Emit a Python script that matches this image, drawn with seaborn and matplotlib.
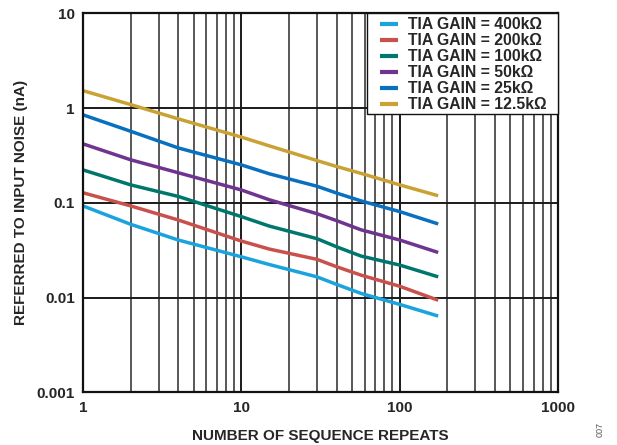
import matplotlib
matplotlib.use("Agg")
import matplotlib.pyplot as plt
import seaborn as sns
import pandas as pd
from matplotlib.patches import Rectangle
from matplotlib.ticker import LogLocator, FixedLocator, NullFormatter

repeats = [1, 2, 4, 10, 15, 30, 40, 57, 100, 175]
labels = ["TIA GAIN = 400kΩ", "TIA GAIN = 200kΩ", "TIA GAIN = 100kΩ",
          "TIA GAIN = 50kΩ", "TIA GAIN = 25kΩ", "TIA GAIN = 12.5kΩ"]
noise_400k = [0.093, 0.0595, 0.0406, 0.027, 0.0224, 0.0166, 0.0138, 0.0111, 0.0085, 0.0064]
noise_200k = [0.128, 0.093, 0.066, 0.0396, 0.0326, 0.0254, 0.0212, 0.0173, 0.0132, 0.0094]
noise_100k = [0.223, 0.155, 0.117, 0.0717, 0.057, 0.042, 0.0344, 0.0275, 0.0221, 0.0166]
noise_50k = [0.42, 0.285, 0.208, 0.137, 0.108, 0.077, 0.065, 0.052, 0.0406, 0.030]
noise_25k = [0.85, 0.57, 0.38, 0.252, 0.203, 0.15, 0.127, 0.105, 0.081, 0.060]
noise_12k5 = [1.53, 1.09, 0.77, 0.495, 0.40, 0.28, 0.242, 0.205, 0.155, 0.119]
colors = ["#1AA3DC", "#C9514C", "#00776D", "#6F3490", "#0970BF", "#CAA234"]

series = [noise_400k, noise_200k, noise_100k, noise_50k, noise_25k, noise_12k5]
rows = []
for lab, vals in zip(labels, series):
    for x, v in zip(repeats, vals):
        rows.append({"x": x, "y": v, "gain": lab})
df = pd.DataFrame(rows)

sns.set_style("white")
plt.rcParams["font.family"] = ["Liberation Sans", "DejaVu Sans"]
plt.rcParams["font.weight"] = "bold"

fig = plt.figure(figsize=(6.17, 4.45), dpi=100)
ax = fig.add_axes([0.1345, 0.118, 0.770, 0.852])

ax.set_xscale("log")
ax.set_yscale("log")
ax.set_xlim(1, 1000)
ax.set_ylim(0.001, 10)

# grid
ax.xaxis.set_major_locator(FixedLocator([1, 10, 100, 1000]))
ax.xaxis.set_minor_locator(LogLocator(base=10, subs=range(2, 10)))
ax.xaxis.set_minor_formatter(NullFormatter())
ax.yaxis.set_major_locator(FixedLocator([0.001, 0.01, 0.1, 1, 10]))
ax.yaxis.set_minor_locator(FixedLocator([]))
ax.grid(True, which="major", axis="both", color="#1a1a1a", linewidth=1.4)
ax.grid(True, which="minor", axis="x", color="#2a2a2a", linewidth=1.1)
ax.set_axisbelow(True)

sns.lineplot(data=df, x="x", y="y", hue="gain", palette=colors,
             hue_order=labels, linewidth=2.5, ax=ax, legend=True,
             solid_capstyle="butt")

ax.set_xticklabels(["1", "10", "100", "1000"])
ax.set_yticklabels(["0.001", "0.01", "0.1", "1", "10"])
ax.tick_params(axis="both", which="both", length=0, labelsize=11, pad=6)
for t in ax.get_xticklabels() + ax.get_yticklabels():
    t.set_fontweight("bold")

for s in ax.spines.values():
    s.set_color("#111111")
    s.set_linewidth(1.6)

ax.set_xlabel("NUMBER OF SEQUENCE REPEATS", fontsize=11, fontweight="bold", labelpad=10)
ax.set_ylabel("REFERRED TO INPUT NOISE (nA)", fontsize=11, fontweight="bold", labelpad=6)

ax_w_px = 0.770 * 617
ax_h_px = 0.852 * 445
leg = ax.legend(loc="upper right", bbox_to_anchor=(1.0 - 10 / ax_w_px, 1.0 - 2.5 / ax_h_px),
                borderaxespad=0, frameon=False, handlelength=1.15, handletextpad=0.6,
                labelspacing=0.06, borderpad=0.1, prop={"weight": "bold", "size": 11.3})
leg.set_zorder(6)
for h in leg.get_lines():
    h.set_linewidth(3.0)

fig.canvas.draw()
bb = leg.get_window_extent().transformed(ax.transAxes.inverted())
pad_x = 12 / ax_w_px
pad_y = 0.5 / ax_h_px
box = Rectangle((bb.x0 - pad_x, bb.y0 - pad_y), 1.0 - (bb.x0 - pad_x), 1.0 - (bb.y0 - pad_y),
                transform=ax.transAxes, facecolor="white", edgecolor="#111111",
                linewidth=1.0, zorder=5, clip_on=False)
ax.add_patch(box)

fig.text(0.972, 0.035, "007", rotation=90, fontsize=6.5, color="#555555",
         fontweight="normal", ha="center", va="center")

fig.savefig("out.png", dpi=100)
